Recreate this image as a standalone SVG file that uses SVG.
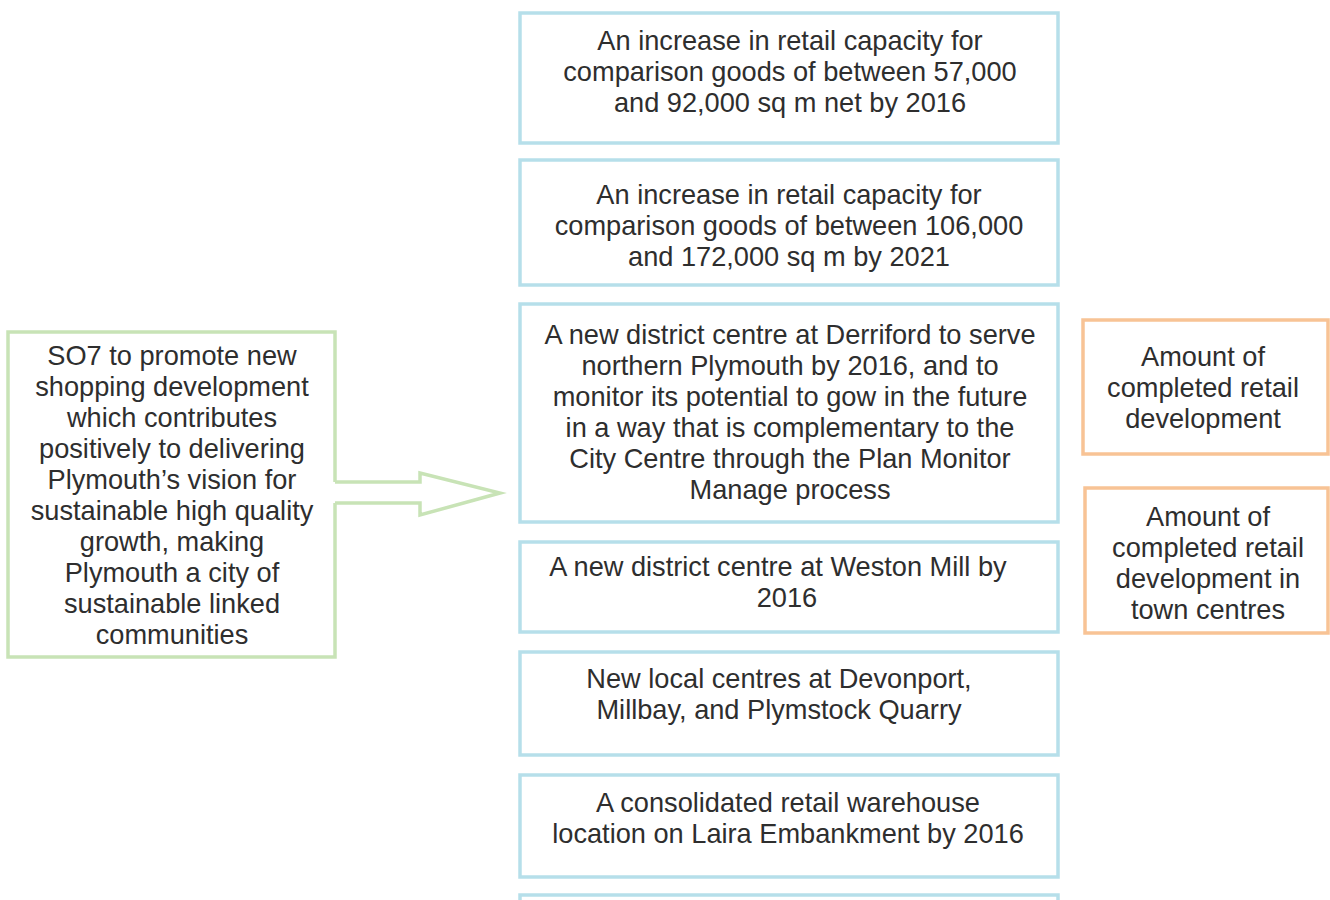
<svg xmlns="http://www.w3.org/2000/svg" width="1330" height="900" viewBox="0 0 1330 900">
<style>
text { font-family: "Liberation Sans", Arial, sans-serif; font-size: 27.2px; fill: #2e2e2e; text-anchor: middle; }
.blue { fill: #ffffff; stroke: #b6dfea; stroke-width: 3.5; }
.orange { fill: #ffffff; stroke: #f8c395; stroke-width: 3.5; }
.green { fill: none; stroke: #c8e3b6; stroke-width: 3.5; }
</style>
<rect x="0" y="0" width="1330" height="900" fill="#ffffff"/>
<g id="goal">
  <rect x="8" y="332" width="327" height="325" fill="#ffffff"/>
  <path class="green" d="M335,482 V332 H8 V657 H335 V503"/>
  <text x="172" y="365">SO7 to promote new</text>
  <text x="172" y="396">shopping development</text>
  <text x="172" y="427">which contributes</text>
  <text x="172" y="458">positively to delivering</text>
  <text x="172" y="489">Plymouth’s vision for</text>
  <text x="172" y="520">sustainable high quality</text>
  <text x="172" y="551">growth, making</text>
  <text x="172" y="582">Plymouth a city of</text>
  <text x="172" y="613">sustainable linked</text>
  <text x="172" y="644">communities</text>
</g>
<g id="connectors">
  <path class="green" d="M335,482 H420 V473 L500,493 L420,515 V503 H335"/>
</g>
<g id="target1">
  <rect class="blue" x="520" y="13" width="538" height="130"/>
  <text x="790" y="50">An increase in retail capacity for</text>
  <text x="790" y="81">comparison goods of between 57,000</text>
  <text x="790" y="112">and 92,000 sq m net by 2016</text>
</g>
<g id="target2">
  <rect class="blue" x="520" y="160" width="538" height="125"/>
  <text x="789" y="204">An increase in retail capacity for</text>
  <text x="789" y="235">comparison goods of between 106,000</text>
  <text x="789" y="266">and 172,000 sq m by 2021</text>
</g>
<g id="target3">
  <rect class="blue" x="520" y="304" width="538" height="218"/>
  <text x="790" y="344">A new district centre at Derriford to serve</text>
  <text x="790" y="375">northern Plymouth by 2016, and to</text>
  <text x="790" y="406">monitor its potential to gow in the future</text>
  <text x="790" y="437">in a way that is complementary to the</text>
  <text x="790" y="468">City Centre through the Plan Monitor</text>
  <text x="790" y="499">Manage process</text>
</g>
<g id="target4">
  <rect class="blue" x="520" y="542" width="538" height="90"/>
  <text x="778" y="576">A new district centre at Weston Mill by</text>
  <text x="787" y="607">2016</text>
</g>
<g id="target5">
  <rect class="blue" x="520" y="652" width="538" height="103"/>
  <text x="779" y="688">New local centres at Devonport,</text>
  <text x="779" y="719">Millbay, and Plymstock Quarry</text>
</g>
<g id="target6">
  <rect class="blue" x="520" y="775" width="538" height="102"/>
  <text x="788" y="812">A consolidated retail warehouse</text>
  <text x="788" y="843">location on Laira Embankment by 2016</text>
</g>
<g id="target7">
  <rect class="blue" x="520" y="895" width="538" height="40"/>
</g>
<g id="indicator1">
  <rect class="orange" x="1083" y="320" width="245" height="134"/>
  <text x="1203" y="366">Amount of</text>
  <text x="1203" y="397">completed retail</text>
  <text x="1203" y="428">development</text>
</g>
<g id="indicator2">
  <rect class="orange" x="1085" y="488" width="243" height="145"/>
  <text x="1208" y="526">Amount of</text>
  <text x="1208" y="557">completed retail</text>
  <text x="1208" y="588">development in</text>
  <text x="1208" y="619">town centres</text>
</g>
</svg>
